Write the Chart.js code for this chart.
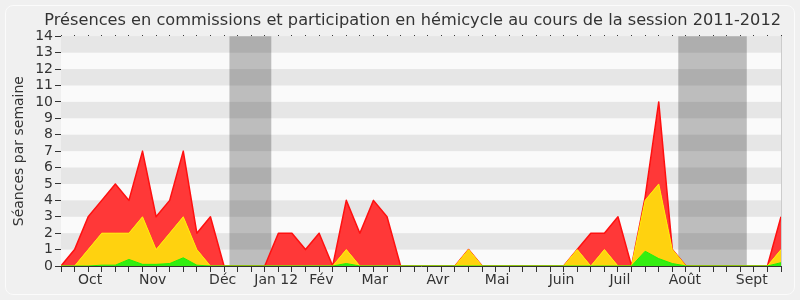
<!DOCTYPE html>
<html>
<head>
<meta charset="utf-8">
<script src="https://cdn.jsdelivr.net/npm/chart.js@4/dist/chart.umd.min.js"></script>
<style>
    html, body { margin: 0; padding: 0; background: #f0f0f0; }
    #wrap { position: relative; width: 800px; height: 300px; }
    #frame { position: absolute; left: 5px; top: 5px; width: 788px; height: 288px; border: 1px solid #fbfbfb; border-radius: 8px; }
    canvas { position: absolute; left: 0; top: 0; }
</style>
</head>
<body>
<div id="wrap">
    <div id="frame"></div>
    <canvas id="presenceChart" width="800" height="300"></canvas>
</div>
<script>
// Semaines de la session (0 = fin septembre 2011)
const semaines = [];
for (let i = 0; i <= 53; i++) semaines.push(i);

// Séances par semaine, par couche (empilées)
const presencesCommission = [0, 0, 0, 0.05, 0.05, 0.4, 0.1, 0.1, 0.15, 0.5, 0.05, 0, 0, 0, 0, 0, 0, 0, 0, 0, 0, 0.15, 0, 0, 0, 0, 0, 0, 0, 0, 0, 0, 0, 0, 0, 0, 0, 0, 0, 0, 0, 0, 0, 0.9, 0.45, 0.15, 0, 0, 0, 0, 0, 0, 0, 0.2];
const participations      = [0, 0, 1, 1.95, 1.95, 1.6, 2.9, 0.9, 1.85, 2.5, 0.95, 0, 0, 0, 0, 0, 0, 0, 0, 0, 0, 0.85, 0, 0, 0, 0, 0, 0, 0, 0, 1, 0, 0, 0, 0, 0, 0, 0, 1, 0, 1, 0, 0, 3.1, 4.55, 0.85, 0, 0, 0, 0, 0, 0, 0, 0.8];
const presencesHemicycle  = [0, 1, 2, 2, 3, 2, 4, 2, 2, 4, 1, 3, 0, 0, 0, 0, 2, 2, 1, 2, 0, 3, 2, 4, 3, 0, 0, 0, 0, 0, 0, 0, 0, 0, 0, 0, 0, 0, 0, 2, 1, 3, 0, 0.2, 5, 0, 0, 0, 0, 0, 0, 0, 0, 2];

// Vacances parlementaires (en semaines)
const vacancesDebut = [12.4, 45.44];
const vacancesFin   = [15.48, 50.48];

// Libellés des mois
const moisLabels = ['Oct', 'Nov', 'Déc', 'Jan 12', 'Fév', 'Mar', 'Avr', 'Mai', 'Juin', 'Juil', 'Août', 'Sept'];
const moisPositions = [2.14, 6.75, 11.9, 15.84, 19.17, 23.09, 27.75, 32.1, 36.85, 41.14, 45.93, 50.85];

const yTicks = [0, 1, 2, 3, 4, 5, 6, 7, 8, 9, 10, 11, 12, 13, 14];

// Bandes horizontales + zones de vacances, derrière les séries
const fondPlugin = {
    id: 'fond',
    beforeDatasetsDraw(chart) {
        const { ctx, chartArea: a, scales } = chart;
        ctx.save();
        ctx.fillStyle = '#fafafa';
        ctx.fillRect(a.left, a.top, a.right - a.left, a.bottom - a.top);
        ctx.fillStyle = '#e6e6e6';
        for (let v = 1; v < 14; v += 2) {
            const y1 = scales.y.getPixelForValue(v + 1);
            const y0 = scales.y.getPixelForValue(v);
            ctx.fillRect(a.left, y1, a.right - a.left, y0 - y1);
        }
        ctx.globalCompositeOperation = 'multiply';
        ctx.fillStyle = '#c1c1c1';
        for (let i = 0; i < vacancesDebut.length; i++) {
            const x0 = scales.x.getPixelForValue(vacancesDebut[i]);
            const x1 = scales.x.getPixelForValue(vacancesFin[i]);
            ctx.fillRect(x0, a.top, x1 - x0, a.bottom - a.top);
        }
        ctx.globalCompositeOperation = 'source-over';
        ctx.strokeStyle = '#cccccc';
        ctx.lineWidth = 1;
        ctx.beginPath();
        ctx.moveTo(a.right + 0.5, a.top);
        ctx.lineTo(a.right + 0.5, a.bottom);
        ctx.stroke();
        ctx.restore();
    }
};

const ctx = document.getElementById('presenceChart').getContext('2d');

new Chart(ctx, {
    type: 'line',
    data: {
        labels: semaines,
        datasets: [
            {
                label: 'Présences en commission',
                data: presencesCommission,
                borderColor: '#22ee00',
                backgroundColor: '#33ee11',
                borderWidth: 1,
                borderJoinStyle: 'round',
                fill: 'origin',
                pointRadius: 0,
                tension: 0
            },
            {
                label: 'Participations',
                data: participations,
                borderColor: '#ffee00',
                backgroundColor: '#ffd20f',
                borderWidth: 1,
                borderJoinStyle: 'round',
                fill: '-1',
                pointRadius: 0,
                tension: 0
            },
            {
                label: 'Présences en hémicycle',
                data: presencesHemicycle,
                borderColor: '#ff1010',
                backgroundColor: '#ff3838',
                borderWidth: 1.5,
                borderJoinStyle: 'round',
                fill: '-1',
                pointRadius: 0,
                tension: 0
            }
        ]
    },
    options: {
        responsive: false,
        animation: false,
        layout: { padding: { left: 0, right: 19, top: 0, bottom: 0 } },
        plugins: {
            legend: { display: false },
            tooltip: { enabled: false },
            title: {
                display: true,
                text: 'Présences en commissions et participation en hémicycle au cours de la session 2011-2012',
                align: 'end',
                color: '#333333',
                font: { size: 16.2, family: "'DejaVu Sans', sans-serif", weight: 'normal' },
                padding: { top: 11, bottom: 0 }
            }
        },
        scales: {
            x: {
                type: 'linear',
                position: 'bottom',
                min: 0,
                max: 53,
                afterBuildTicks: (s) => { s.ticks = semaines.map(v => ({ value: v })); },
                afterFit: (s) => { s.height = 6; },
                ticks: { display: false },
                grid: { drawOnChartArea: false, tickLength: 6, color: '#333333' },
                border: { color: '#333333' }
            },
            xMois: {
                type: 'linear',
                position: 'bottom',
                min: 0,
                max: 53,
                afterBuildTicks: (s) => { s.ticks = moisPositions.map(v => ({ value: v })); },
                afterFit: (s) => { s.height = 28; },
                ticks: {
                    autoSkip: false,
                    maxRotation: 0,
                    padding: -8,
                    color: '#333333',
                    font: { size: 14, family: "'DejaVu Sans', sans-serif" },
                    callback: (v, i) => moisLabels[i]
                },
                grid: { display: false },
                border: { display: false }
            },
            xTop: {
                type: 'linear',
                position: 'top',
                min: 0,
                max: 53,
                afterBuildTicks: (s) => { s.ticks = semaines.map(v => ({ value: v })); },
                afterFit: (s) => { s.height = 5.8; },
                ticks: { display: false },
                grid: { drawOnChartArea: false, tickLength: 1, color: '#000000' },
                border: { color: '#aaaaaa', dash: [1, 3] }
            },
            y: {
                stacked: true,
                min: 0,
                max: 14,
                afterBuildTicks: (s) => { s.ticks = yTicks.map(v => ({ value: v })); },
                afterFit: (s) => { s.width = 61; },
                ticks: {
                    autoSkip: false,
                    color: '#333333',
                    padding: 2,
                    font: { size: 14, family: "'DejaVu Sans', sans-serif", lineHeight: 1 }
                },
                grid: { drawOnChartArea: false, tickLength: 6, color: '#333333' },
                border: { color: '#333333' },
                title: {
                    display: true,
                    text: 'Séances par semaine',
                    color: '#333333',
                    font: { size: 14, family: "'DejaVu Sans', sans-serif" },
                    padding: { top: 11, bottom: 0 }
                }
            }
        }
    },
    plugins: [fondPlugin]
});
</script>
</body>
</html>
